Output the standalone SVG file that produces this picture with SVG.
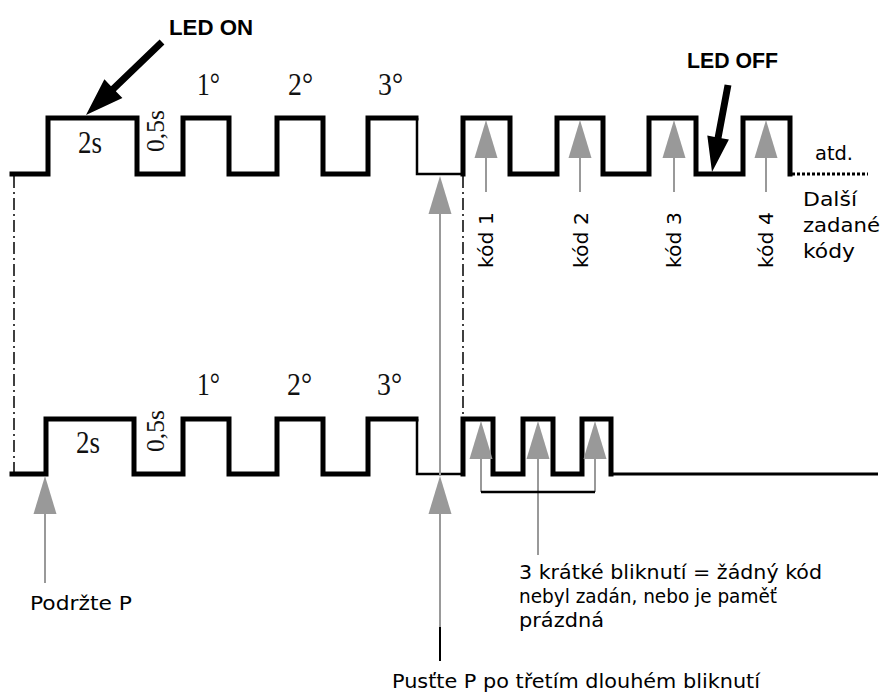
<svg xmlns="http://www.w3.org/2000/svg" width="883" height="692" viewBox="0 0 883 692">
<style>
.wave{fill:none;stroke:#000;stroke-width:5;stroke-linejoin:miter;stroke-linecap:square}
.thin{fill:none;stroke:#000;stroke-width:2.5}
.dd{fill:none;stroke:#000;stroke-width:1.5;stroke-dasharray:12 4 2 4}
.gs{fill:none;stroke:#999;stroke-width:2}
.gh{fill:#999}
.ser{font-family:"Liberation Serif",serif;font-size:31px;fill:#111}
.ser2{font-family:"Liberation Serif",serif;font-size:26px;fill:#111}
.sans{font-family:"DejaVu Sans","Liberation Sans",sans-serif;font-size:20px;fill:#000}
.txt{font-family:"DejaVu Sans","Liberation Sans",sans-serif;font-size:20px;fill:#000}
.bold{font-family:"Liberation Sans",Arial,sans-serif;font-size:22px;font-weight:bold;fill:#000}
</style>
<defs>
<polygon id="ah" points="0,0 -11.5,38 11.5,38" class="gh"/>
</defs>
<g id="connectors">
<line class="dd" x1="14" y1="176" x2="14" y2="472"/>
<line class="dd" x1="463" y1="176" x2="463" y2="417"/>
<path class="wave" d="M12,174 H48 V118 H137 V174 H183 V118 H229 V174 H277 V118 H323 V174 H368 V118 H416"/>
<path class="thin" d="M417,118 V174 H463"/>
<path class="wave" d="M463,174 V118 H510 V174 H557 V118 H603 V174 H649 V118 H696 V174 H743 V118 H790 V174"/>
<path d="M792,174 H868" stroke="#000" stroke-width="3" stroke-dasharray="3 2" fill="none"/>
<path class="wave" d="M12,474 H46 V419 H134 V474 H183 V419 H229 V474 H277 V419 H323 V474 H368 V419 H416"/>
<path class="thin" d="M417,419 V474 H463"/>
<path class="wave" d="M463,474 V419 H493 V474 H523 V419 H553 V474 H582 V419 H611 V474"/>
<path d="M611,474 H878" stroke="#000" stroke-width="3" fill="none"/>
<polygon points="159.6,39.5 111,86.2 104.4,79.3 86,115 122.4,98.1 115.8,91.2 164.4,44.5" fill="#000"/>
<polygon points="724.6,84.4 714.7,137 707.3,135.6 712,172 728.9,139.6 721.5,138.2 731.4,85.6" fill="#000"/>
<use href="#ah" x="486" y="120"/><line class="gs" x1="486" y1="157" x2="486" y2="192"/>
<use href="#ah" x="580" y="120"/><line class="gs" x1="580" y1="157" x2="580" y2="192"/>
<use href="#ah" x="674" y="120"/><line class="gs" x1="674" y1="157" x2="674" y2="192"/>
<use href="#ah" x="766" y="120"/><line class="gs" x1="766" y1="157" x2="766" y2="192"/>
<use href="#ah" x="440" y="176"/>
<line class="gs" x1="440" y1="213" x2="440" y2="476"/>
<use href="#ah" x="440" y="476"/>
<line class="gs" x1="440" y1="513" x2="440" y2="628"/>
<line x1="440" y1="627" x2="440" y2="661" stroke="#000" stroke-width="2"/>
<use href="#ah" x="45" y="476"/>
<line class="gs" x1="45" y1="513" x2="45" y2="583"/>
<use href="#ah" x="481" y="421"/><line class="gs" x1="481" y1="458" x2="481" y2="492"/>
<use href="#ah" x="538" y="421"/><line class="gs" x1="538" y1="458" x2="538" y2="555"/>
<use href="#ah" x="595" y="421"/><line class="gs" x1="595" y1="458" x2="595" y2="492"/>
<line x1="481" y1="492" x2="595" y2="492" stroke="#000" stroke-width="2.5"/>
</g>
<g id="labels-top">
<text class="bold" x="169" y="35" textLength="84" lengthAdjust="spacingAndGlyphs">LED ON</text>
<text class="bold" x="687" y="68" textLength="91" lengthAdjust="spacingAndGlyphs">LED OFF</text>
<text class="ser" x="197" y="95" textLength="23" lengthAdjust="spacingAndGlyphs">1°</text>
<text class="ser" x="288" y="95" textLength="25" lengthAdjust="spacingAndGlyphs">2°</text>
<text class="ser" x="378" y="95" textLength="25" lengthAdjust="spacingAndGlyphs">3°</text>
<text class="ser" x="78" y="153" textLength="24" lengthAdjust="spacingAndGlyphs">2s</text>
<text class="ser2" transform="translate(164,152) rotate(-90)" textLength="42" lengthAdjust="spacingAndGlyphs">0,5s</text>
<text class="sans" transform="translate(493,268) rotate(-90)" textLength="56" lengthAdjust="spacingAndGlyphs">kód 1</text>
<text class="sans" transform="translate(588,268) rotate(-90)" textLength="56" lengthAdjust="spacingAndGlyphs">kód 2</text>
<text class="sans" transform="translate(681,268) rotate(-90)" textLength="56" lengthAdjust="spacingAndGlyphs">kód 3</text>
<text class="sans" transform="translate(773,268) rotate(-90)" textLength="56" lengthAdjust="spacingAndGlyphs">kód 4</text>
<text class="sans" x="815" y="160" textLength="38" lengthAdjust="spacingAndGlyphs">atd.</text>
<text class="sans" x="803" y="206" textLength="54" lengthAdjust="spacingAndGlyphs">Další</text>
<text class="sans" x="803" y="232" textLength="77" lengthAdjust="spacingAndGlyphs">zadané</text>
<text class="sans" x="803" y="258" textLength="52" lengthAdjust="spacingAndGlyphs">kódy</text>
</g>
<g id="labels-bottom">
<text class="ser" x="197" y="395" textLength="23" lengthAdjust="spacingAndGlyphs">1°</text>
<text class="ser" x="287" y="395" textLength="25" lengthAdjust="spacingAndGlyphs">2°</text>
<text class="ser" x="377" y="395" textLength="25" lengthAdjust="spacingAndGlyphs">3°</text>
<text class="ser" x="76" y="453" textLength="24" lengthAdjust="spacingAndGlyphs">2s</text>
<text class="ser2" transform="translate(164,452) rotate(-90)" textLength="42" lengthAdjust="spacingAndGlyphs">0,5s</text>
<text class="txt" x="30" y="610" textLength="102" lengthAdjust="spacingAndGlyphs">Podržte P</text>
<text class="txt" x="519" y="579" textLength="303" lengthAdjust="spacingAndGlyphs">3 krátké bliknutí = žádný kód</text>
<text class="txt" x="519" y="603" textLength="258" lengthAdjust="spacingAndGlyphs">nebyl zadán, nebo je paměť</text>
<text class="txt" x="519" y="627" textLength="85" lengthAdjust="spacingAndGlyphs">prázdná</text>
<text class="txt" x="392" y="688" textLength="368" lengthAdjust="spacingAndGlyphs">Pusťte P po třetím dlouhém bliknutí</text>
</g>
</svg>
